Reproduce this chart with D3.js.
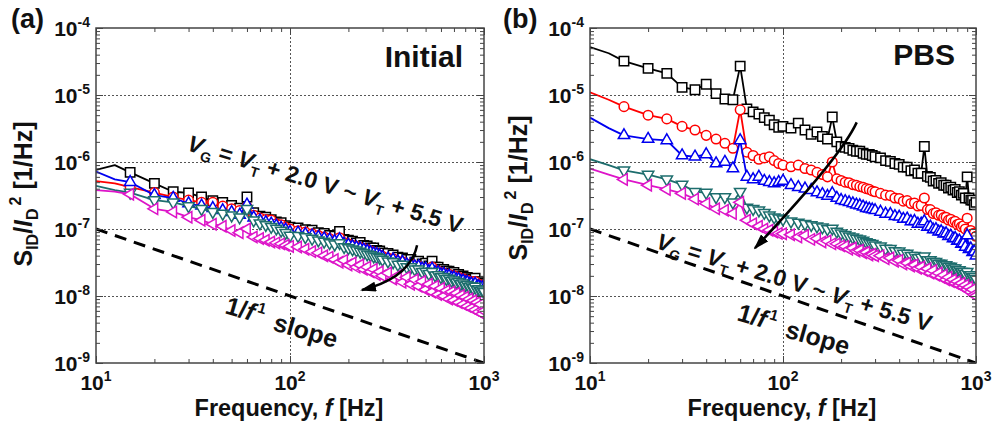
<!DOCTYPE html>
<html>
<head>
<meta charset="utf-8">
<title>Normalized drain-current noise spectra</title>
<script src="https://cdn.jsdelivr.net/npm/d3@7/dist/d3.min.js"></script>
<style>
  html, body { margin: 0; padding: 0; background: #fff; }
  svg text { font-family: "Liberation Sans", Arial, Helvetica, sans-serif; font-weight: bold; white-space: pre; fill: #111; }
</style>
</head>
<body>
<svg id="chart" width="993" height="429"></svg>
<script>
// ---------------- data ----------------
// Frequency points of the measured spectra [Hz]
const FREQ = [10, 12.5, 15, 20, 25, 30, 35, 40, 45, 50, 55, 60, 65, 70, 75, 80, 85, 90, 95, 100,
  110, 120, 130, 140, 150, 160, 170, 180, 190, 200, 210, 220, 230, 240, 250, 260, 270, 280, 290, 300,
  320, 340, 360, 380, 400, 420, 440, 460, 480, 500, 520, 540, 560, 580, 600, 620, 640, 660, 680, 700,
  720, 740, 760, 780, 800, 820, 840, 860, 880, 900, 920, 940, 960, 980, 1000];

// Normalized noise S_ID/I_D^2, listed in units of 1e-9 1/Hz
const UNIT = 1e-9;

// (a) Initial
const initialBlack = [760, 900, 700, 480, 360, 345, 300, 265, 250, 225, 205, 300, 175, 155, 150, 138, 128, 124, 112, 106,
  104, 98, 96, 88, 86, 80, 78, 92, 70, 68, 66, 62, 63, 57, 56, 52, 52, 48, 47, 44,
  43, 41, 38, 37, 35, 35, 32, 33, 30, 31, 28, 33, 27, 27, 25, 25, 23.5, 23.5, 22, 22.5,
  20.5, 21, 19.5, 20, 18.5, 19, 17.8, 18, 16.8, 18.5, 16.2, 16.3, 15.4, 15.4, 14.6];
const initialRed = [520, 480, 420, 350, 300, 270, 250, 250, 220, 200, 188, 215, 160, 146, 138, 136, 120, 116, 106, 100,
  94, 90, 85, 80, 76, 72, 68, 74, 63, 60, 57, 55, 53, 51, 49, 47, 45, 43, 41, 39,
  37, 36, 33, 32.5, 30, 30, 28, 28, 26, 26, 24.5, 27, 23, 23.5, 21.5, 22, 20.5, 21, 19.5, 20,
  18.6, 19, 17.6, 18, 17, 17.2, 16.2, 16.4, 15.4, 16.5, 14.9, 15, 14.3, 14.5, 14];
const initialBlue = [720, 550, 500, 320, 290, 240, 222, 205, 190, 178, 162, 230, 148, 134, 126, 120, 112, 104, 98, 90,
  88, 84, 80, 76, 72, 69, 66, 70, 60, 58, 55, 53, 51, 49, 47, 45, 43, 42, 40, 38,
  36, 35, 32.5, 32, 29.5, 29.5, 27.5, 27.5, 25.5, 25.5, 23.5, 25.5, 22.5, 22.5, 21, 21.2, 19.8, 20, 18.6, 18.8,
  17.6, 17.8, 16.7, 16.9, 15.9, 16.1, 15.1, 15.3, 14.3, 15.2, 13.8, 13.9, 13.2, 13.4, 12.9];
const initialTeal = [440, 380, 350, 270, 250, 220, 200, 180, 170, 160, 150, 200, 135, 122, 115, 108, 102, 95, 88, 80,
  79, 76, 72, 68, 65, 62, 59, 62, 54, 52, 50, 48, 46, 44, 42, 41, 39, 38, 37, 35,
  33, 32, 29.5, 29.5, 27, 27, 25, 25, 23, 23.2, 21.5, 23, 20.4, 20.6, 19.2, 19.4, 18, 18.2, 17, 17.2,
  16, 16.3, 15.2, 15.5, 14.5, 14.7, 13.7, 14, 13.1, 13.8, 12.5, 12.7, 12, 12.2, 11.6];
const initialMagenta = [380, 360, 330, 200, 180, 150, 135, 118, 110, 95, 88, 100, 76, 72, 68, 64, 62, 60, 57, 55,
  54, 50, 46, 44, 40, 38, 35, 32, 34, 29, 31, 27, 29, 25, 27, 23, 25, 21, 23, 20,
  22, 18, 20, 16, 19, 15, 17.5, 14, 16.5, 12.5, 15, 11.5, 14, 10.5, 13, 10, 12, 9, 11.5, 8.6,
  11, 8, 10.2, 7.5, 9.6, 7, 9, 6.6, 8.5, 6.2, 8, 5.8, 7.5, 5.4, 6];

// (b) PBS
const pbsBlack = [52000, 42000, 32000, 25000, 21000, 13000, 12000, 14500, 10500, 8700, 8500, 27000, 6200, 5600, 5200, 4600, 4200, 3600, 3300, 3400,
  3200, 3800, 3000, 2600, 2800, 2400, 2200, 4700, 2000, 1700, 1650, 1600, 1500, 1450, 1450, 1350, 1300, 1300, 1250, 1200,
  1150, 1050, 1020, 950, 920, 840, 840, 740, 760, 680, 680, 1700, 610, 590, 520, 530, 480, 490, 450, 450,
  410, 420, 380, 390, 350, 360, 320, 340, 290, 600, 290, 270, 270, 230, 250];
const pbsRed = [11000, 8500, 6700, 5000, 4400, 3400, 3000, 2500, 2200, 1900, 1600, 6000, 1400, 1250, 1100, 1150, 1200, 1050, 950, 900,
  850, 900, 800, 760, 700, 650, 600, 1000, 560, 530, 500, 490, 460, 450, 430, 420, 400, 390, 370, 360,
  340, 320, 315, 290, 285, 260, 265, 240, 245, 220, 225, 290, 195, 195, 170, 175, 160, 162, 148, 150,
  136, 140, 127, 130, 117, 120, 108, 112, 100, 145, 92, 95, 85, 87, 78];
const pbsBlue = [4600, 3200, 2500, 2200, 2100, 1250, 1200, 1300, 950, 1000, 800, 2100, 600, 550, 600, 520, 500, 480, 500, 520,
  450, 420, 400, 380, 350, 330, 310, 340, 290, 270, 260, 250, 240, 230, 225, 215, 205, 200, 195, 190,
  180, 168, 167, 155, 152, 141, 142, 130, 131, 119, 120, 130, 107, 108, 98, 99, 91, 92, 85, 86,
  78, 79, 72, 73, 66, 67, 60, 61, 54, 80, 50, 51, 45, 46, 40];
const pbsTeal = [1100, 900, 750, 650, 550, 460, 360, 350, 300, 300, 250, 360, 210, 200, 190, 175, 160, 150, 145, 140,
  130, 125, 120, 115, 110, 106, 100, 102, 92, 86, 82, 78, 75, 72, 70, 67, 64, 62, 60, 57,
  55, 51, 50.5, 47, 46.5, 43, 43, 40, 40, 37, 37.5, 39, 34.5, 34.5, 32.5, 32.5, 30.5, 30.5, 29, 29,
  27.5, 27.5, 26, 26, 24.5, 24.5, 23, 23, 21.5, 23, 20.5, 20.5, 19.2, 19.3, 18];
const pbsMagenta = [800, 650, 550, 450, 390, 340, 280, 240, 200, 190, 170, 250, 135, 120, 110, 100, 96, 90, 86, 85,
  82, 76, 80, 70, 72, 64, 66, 60, 60, 56, 55, 50, 52, 47, 48, 44, 45, 41, 42, 40,
  40, 36, 37, 33, 34, 30, 31, 28, 29, 26, 27, 24, 25.5, 22, 24, 20.5, 22, 19, 20.5, 17.5,
  19, 16.5, 17.5, 15.5, 16.5, 14.5, 15.5, 13.5, 14.5, 12.5, 13.5, 11.5, 12.5, 10.5, 10];

// 1/f reference line
const SLOPE_F = [10, 1000];
const SLOPE_S = [1e-7, 1e-9];

// axis decades
const X_TICKS = [10, 100, 1000];
const Y_TICKS = [1e-9, 1e-8, 1e-7, 1e-6, 1e-5, 1e-4];

const PANEL_LABELS = ['(a)', '(b)'];
const PANEL_TAGS = ['Initial', 'PBS'];
const PANEL_SPECTRA = [
  [initialBlack, initialRed, initialBlue, initialTeal, initialMagenta],
  [pbsBlack, pbsRed, pbsBlue, pbsTeal, pbsMagenta]
];

// ---------------- styling / layout ----------------
const SERIES_COLORS = ['#000000', '#ff0000', '#0000f0', '#1d6d6d', '#dd14c8'];
const SERIES_SHAPES = ['square', 'circle', 'up', 'down', 'left'];
const MARK_FROM = 15; // symbols start at 15 Hz, the line starts at 10 Hz

const LAYOUT = [
  { left: 96, right: 484, top: 28, bottom: 363,
    label: [11, 28], tag: [463, 67], yTitle: [32, 194], xTitle: [289, 416],
    note: [186, 150], slopeA: [224, 313], slopeB: [272, 330],
    arrow: [[452, 5.7e-8], [416, 1.86e-8], [235, 1.23e-8]] },
  { left: 590, right: 976, top: 28, bottom: 363,
    label: [503, 28], tag: [955, 65], yTitle: [527, 188], xTitle: [782, 416],
    note: [655, 248], slopeA: [736, 320], slopeB: [784, 337],
    arrow: [[241, 3.9e-6], [197, 1.13e-6], [71.6, 5.2e-8]] }
];

// ---------------- drawing ----------------
const svg = d3.select('#chart');
const defs = svg.append('defs');
defs.append('marker')
  .attr('id', 'arrowHead').attr('viewBox', '0 0 16 10')
  .attr('refX', 14).attr('refY', 5)
  .attr('markerWidth', 16).attr('markerHeight', 10)
  .attr('markerUnits', 'userSpaceOnUse').attr('orient', 'auto')
  .append('path').attr('d', 'M0,0 L16,5 L0,10 Z').attr('fill', '#000');

const symbolGen = {
  square: d3.symbol(d3.symbolSquare, 88),
  circle: d3.symbol(d3.symbolCircle, 72),
  triangle: d3.symbol(d3.symbolTriangle, 56)
};
const shapeDef = {
  square: ['square', 0], circle: ['circle', 0],
  up: ['triangle', 0], down: ['triangle', 180], left: ['triangle', -90]
};

const minorX = [];
[10, 100].forEach(d => { for (let k = 2; k <= 9; k++) minorX.push(k * d); });
const minorY = [];
Y_TICKS.slice(0, -1).forEach(d => { for (let k = 2; k <= 9; k++) minorY.push(k * d); });

PANEL_SPECTRA.forEach((spectra, i) => {
  const L = LAYOUT[i];
  const x = d3.scaleLog().domain([10, 1000]).range([L.left, L.right]);
  const y = d3.scaleLog().domain([1e-9, 1e-4]).range([L.bottom, L.top]);
  const g = svg.append('g');
  const W = L.right - L.left, H = L.bottom - L.top;

  const clipId = 'plotClip' + i;
  defs.append('clipPath').attr('id', clipId)
    .append('rect').attr('x', L.left).attr('y', L.top).attr('width', W).attr('height', H);

  // dotted decade grid
  g.append('g').attr('transform', `translate(0,${L.bottom})`)
    .call(d3.axisBottom(x).tickValues(X_TICKS.slice(1, -1)).tickSize(-H).tickFormat(''))
    .call(s => s.select('.domain').remove())
    .selectAll('line').attr('stroke', '#555').attr('stroke-dasharray', '2,2');
  g.append('g').attr('transform', `translate(${L.left},0)`)
    .call(d3.axisLeft(y).tickValues(Y_TICKS.slice(1, -1)).tickSize(-W).tickFormat(''))
    .call(s => s.select('.domain').remove())
    .selectAll('line').attr('stroke', '#555').attr('stroke-dasharray', '2,2');

  const plot = g.append('g').attr('clip-path', `url(#${clipId})`);
  const line = d3.line().x(d => x(d[0])).y(d => y(d[1]));

  // 1/f guide
  plot.append('path')
    .datum(SLOPE_F.map((f, k) => [f, SLOPE_S[k]]))
    .attr('d', line)
    .attr('fill', 'none').attr('stroke', '#000')
    .attr('stroke-width', 3).attr('stroke-dasharray', '12,8');

  // spectra
  spectra.forEach((vals, s) => {
    const color = SERIES_COLORS[s];
    const pts = FREQ.map((f, k) => [f, vals[k] * UNIT]);
    plot.append('path').datum(pts)
      .attr('d', line)
      .attr('fill', 'none').attr('stroke', color)
      .attr('stroke-width', 1.8).attr('stroke-linejoin', 'round');
    const [kind, rot] = shapeDef[SERIES_SHAPES[s]];
    plot.append('g').selectAll('path')
      .data(pts.filter(d => d[0] >= MARK_FROM))
      .join('path')
      .attr('d', symbolGen[kind]())
      .attr('transform', d => `translate(${x(d[0])},${y(d[1])}) rotate(${rot})`)
      .attr('fill', '#fff').attr('stroke', color).attr('stroke-width', 1.5);
  });

  // inward frame ticks on all four sides
  const tickSet = (axis, transform, values, size) => {
    g.append('g').attr('transform', transform)
      .call(axis.tickValues(values).tickSize(size).tickFormat(''))
      .call(s => s.select('.domain').remove())
      .selectAll('line').attr('stroke', '#444').attr('stroke-width', 1);
  };
  tickSet(d3.axisLeft(y), `translate(${L.left},0)`, minorY, -4);
  tickSet(d3.axisLeft(y), `translate(${L.left},0)`, Y_TICKS, -7);
  tickSet(d3.axisRight(y), `translate(${L.right},0)`, minorY, -4);
  tickSet(d3.axisRight(y), `translate(${L.right},0)`, Y_TICKS, -7);
  tickSet(d3.axisBottom(x), `translate(0,${L.bottom})`, minorX, -4);
  tickSet(d3.axisBottom(x), `translate(0,${L.bottom})`, X_TICKS, -7);
  tickSet(d3.axisTop(x), `translate(0,${L.top})`, minorX, -4);
  tickSet(d3.axisTop(x), `translate(0,${L.top})`, X_TICKS, -7);

  g.append('rect')
    .attr('x', L.left).attr('y', L.top).attr('width', W).attr('height', H)
    .attr('fill', 'none').attr('stroke', '#444').attr('stroke-width', 1.5);

  // tick labels 10^n
  Y_TICKS.forEach(v => {
    const t = g.append('text').attr('x', L.left - 6).attr('y', y(v) + 7.5)
      .attr('text-anchor', 'end').attr('font-size', 21);
    t.append('tspan').text('10');
    t.append('tspan').attr('font-size', 14).attr('dy', -9).text(String(Math.round(Math.log10(v))));
  });
  X_TICKS.forEach(v => {
    const t = g.append('text').attr('x', x(v)).attr('y', 390)
      .attr('text-anchor', 'middle').attr('font-size', 21);
    t.append('tspan').text('10');
    t.append('tspan').attr('font-size', 14).attr('dy', -9).text(String(Math.round(Math.log10(v))));
  });

  // axis titles
  const xt = g.append('text').attr('x', L.xTitle[0]).attr('y', L.xTitle[1])
    .attr('text-anchor', 'middle').attr('font-size', 23.5);
  xt.append('tspan').text('Frequency, ');
  xt.append('tspan').attr('font-style', 'italic').text('f');
  xt.append('tspan').text(' [Hz]');

  const yt = g.append('text')
    .attr('transform', `translate(${L.yTitle[0]},${L.yTitle[1]}) rotate(-90)`)
    .attr('text-anchor', 'middle').attr('font-size', 25);
  yt.append('tspan').text('S');
  yt.append('tspan').attr('font-size', 16).attr('dy', 6).text('ID');
  yt.append('tspan').attr('dy', -6).text('/');
  yt.append('tspan').attr('font-style', 'italic').text('I');
  yt.append('tspan').attr('font-size', 16).attr('dy', 6).text('D');
  yt.append('tspan').attr('font-size', 16).attr('dx', 3).attr('dy', -17).text('2');
  yt.append('tspan').attr('dy', 11).text(' [1/Hz]');

  // panel label and condition
  g.append('text').attr('x', L.label[0]).attr('y', L.label[1]).attr('font-size', 27).text(PANEL_LABELS[i]);
  g.append('text').attr('x', L.tag[0]).attr('y', L.tag[1]).attr('text-anchor', 'end')
    .attr('font-size', 30).text(PANEL_TAGS[i]);

  // gate-voltage annotation
  const note = g.append('text')
    .attr('transform', `translate(${L.note[0]},${L.note[1]}) rotate(17)`)
    .attr('font-size', 23);
  const V = sub => {
    note.append('tspan').attr('font-style', 'italic').text('V');
    note.append('tspan').attr('font-size', 14).attr('dy', 6).text(sub);
  };
  V('G');
  note.append('tspan').attr('dy', -6).text(' = ');
  V('T');
  note.append('tspan').attr('dy', -6).text(' + 2.0 V ~ ');
  V('T');
  note.append('tspan').attr('dy', -6).text(' + 5.5 V');

  // slope label
  const sa = g.append('text')
    .attr('transform', `translate(${L.slopeA[0]},${L.slopeA[1]}) rotate(16)`)
    .attr('font-size', 25);
  sa.append('tspan').text('1/');
  sa.append('tspan').attr('font-style', 'italic').text('f');
  sa.append('tspan').attr('font-size', 15).attr('dx', 2).attr('dy', -10).text('1');
  g.append('text')
    .attr('transform', `translate(${L.slopeB[0]},${L.slopeB[1]}) rotate(16)`)
    .attr('font-size', 25).text('slope');

  // trend arrow
  const [a0, a1, a2] = L.arrow;
  const p = d3.path();
  p.moveTo(x(a0[0]), y(a0[1]));
  p.quadraticCurveTo(x(a1[0]), y(a1[1]), x(a2[0]), y(a2[1]));
  g.append('path').attr('d', p.toString())
    .attr('fill', 'none').attr('stroke', '#000').attr('stroke-width', 2.5)
    .attr('marker-end', 'url(#arrowHead)');
});
</script>
</body>
</html>
